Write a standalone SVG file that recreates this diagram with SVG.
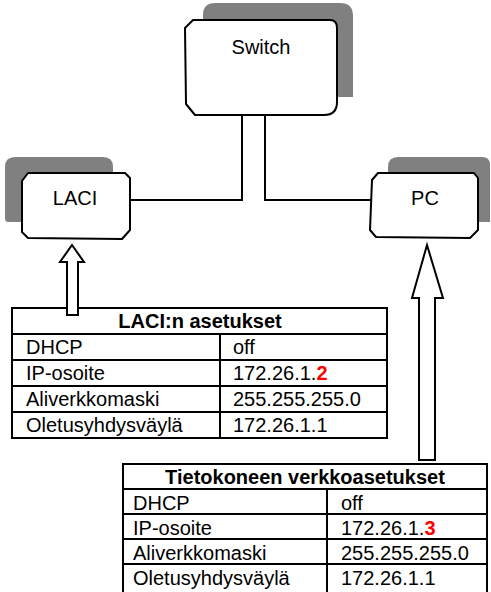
<svg xmlns="http://www.w3.org/2000/svg" width="491" height="592" viewBox="0 0 491 592">
<style>
.shadow{fill:#808080;stroke:none}
.box{fill:#fff;stroke:#000;stroke-width:2;stroke-linejoin:round}
.lbl{font-family:"Liberation Sans",Arial,sans-serif;font-size:20px;fill:#000}
.hdr{font-weight:bold;text-anchor:middle}
.red{fill:#ff0000;font-weight:bold}
.line{fill:none;stroke:#000;stroke-width:2}
.arrow{fill:#fff;stroke:#000;stroke-width:2;stroke-linejoin:miter}
.tbl{fill:#fff;stroke:#000;stroke-width:2}
.grid{stroke:#000;stroke-width:2;fill:none}
</style>
<rect width="491" height="592" fill="#fff"/>
<g id="connectors">
<polyline class="line" points="242,115 242,200 130,200"/>
<polyline class="line" points="265,115 265,200 371,200"/>
</g>
<g id="switch">
<path class="shadow" d="M203,15 Q203,3 215,3 L340,3 Q353,3 353,16 L353,97 L202,97 Z"/>
<path class="box" d="M193,20 L330,20 Q337,20 337,28 L337,102 Q337,115 324,115 L195,115 L186,104 L185,28 Z"/>
<text class="lbl" x="261" y="54" text-anchor="middle">Switch</text>
</g>
<g id="laci">
<path class="shadow" d="M5,167 Q5,157 15,157 L103,157 Q113,157 113,167 L113,222 L8,222 Q5,222 5,218 Z"/>
<path class="box" d="M28,173 L125,173 L130,178 L130,230 L122,239 L28,238 L22,232 L22,181 Z"/>
<text class="lbl" x="75" y="205" text-anchor="middle">LACI</text>
</g>
<g id="pc">
<path class="shadow" d="M388,167 Q388,157 398,157 L482,157 Q490,157 490,165 L490,222 L388,222 Z"/>
<path class="box" d="M378,173 L474,173 L478,178 L478,230 L470,238 L376,237 L370,230 L372,180 Z"/>
<text class="lbl" x="425" y="205" text-anchor="middle">PC</text>
</g>
<g id="laci-table">
<rect class="tbl" x="12" y="308" width="375" height="130"/>
<path class="grid" d="M12,334 H387 M12,360 H387 M12,386 H387 M12,412 H387 M220,334 V438"/>
<text class="lbl hdr" x="200" y="328">LACI:n asetukset</text>
<text class="lbl" x="26" y="354">DHCP</text>
<text class="lbl" x="233" y="354">off</text>
<text class="lbl" x="26" y="380">IP-osoite</text>
<text class="lbl" x="233" y="380">172.26.1.<tspan class="red">2</tspan></text>
<text class="lbl" x="26" y="406">Aliverkkomaski</text>
<text class="lbl" x="233" y="406">255.255.255.0</text>
<text class="lbl" x="26" y="432">Oletusyhdysväylä</text>
<text class="lbl" x="233" y="432">172.26.1.1</text>
</g>
<g id="laci-arrow">
<path class="arrow" d="M72,245 L84,262 L78,262 L78,315 L67,315 L67,262 L60,262 Z"/>
</g>
<g id="pc-table">
<rect class="tbl" x="123" y="464" width="364" height="131"/>
<path class="grid" d="M123,489 H487 M123,514 H487 M123,539 H487 M123,564 H487 M327,489 V595"/>
<text class="lbl hdr" x="305" y="484">Tietokoneen verkkoasetukset</text>
<text class="lbl" x="133" y="510">DHCP</text>
<text class="lbl" x="341" y="510">off</text>
<text class="lbl" x="133" y="535">IP-osoite</text>
<text class="lbl" x="341" y="535">172.26.1.<tspan class="red">3</tspan></text>
<text class="lbl" x="133" y="560">Aliverkkomaski</text>
<text class="lbl" x="341" y="560">255.255.255.0</text>
<text class="lbl" x="133" y="585">Oletusyhdysväylä</text>
<text class="lbl" x="341" y="585">172.26.1.1</text>
</g>
<g id="pc-arrow">
<path class="arrow" d="M427,245 L443,298 L435,298 L435,460 L419,460 L419,298 L412,298 Z"/>
</g>
</svg>
